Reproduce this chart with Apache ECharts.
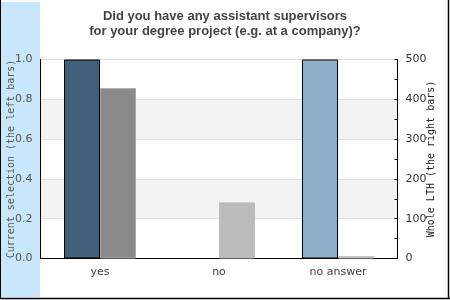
<!DOCTYPE html>
<html><head><meta charset="utf-8">
<script src="https://cdn.jsdelivr.net/npm/echarts@6/dist/echarts.min.js"></script>
<style>html,body{margin:0;padding:0;background:#fff}#c{width:450px;height:300px}</style>
</head><body><div id="c"></div>
<script>
const categories = ['yes', 'no', 'no answer'];
const currentSelection = [1.0, 0, 1.0];
const wholeLTH = [428, 141, 6];
const leftColors = ['#3f5f7a', '#3f5f7a', '#8fb0ca'];
const rightColors = ['#8a8a8a', '#bbbbbb', '#c0c0c0'];
const leftTicks = [0, 0.2, 0.4, 0.6, 0.8, 1.0];
const rightTicks = [0, 100, 200, 300, 400, 500];

const chart = echarts.init(document.getElementById('c'), null, {renderer: 'canvas'});
chart.setOption({
  animation: false,
  title: {
    text: 'Did you have any assistant supervisors\nfor your degree project (e.g. at a company)?',
    left: 'center', top: 4,
    textStyle: {fontFamily: 'Liberation Sans, Arial, sans-serif', fontWeight: 'bold', fontSize: 13, color: '#444', lineHeight: 15}
  },
  graphic: [
    {type: 'rect', z: -10, shape: {x: 1, y: 2, width: 39, height: 295}, style: {fill: '#c9e7fb'}},
    {type: 'line', shape: {x1: 0.5, y1: 0, x2: 0.5, y2: 299}, style: {stroke: '#000', lineWidth: 1}},
    {type: 'line', shape: {x1: 448.5, y1: 0, x2: 448.5, y2: 299}, style: {stroke: '#000', lineWidth: 1.5}},
    {type: 'line', shape: {x1: 0, y1: 298.5, x2: 450, y2: 298.5}, style: {stroke: '#000', lineWidth: 1.5}}
  ],
  grid: {left: 40.5, right: 52.5, top: 59.5, bottom: 41.5, containLabel: false, outerBoundsMode: 'none', show: true, borderColor: '#000', borderWidth: 1, backgroundColor: 'transparent'},
  xAxis: {
    type: 'category', data: categories,
    axisLine: {show: true, lineStyle: {color: '#000', width: 1}},
    axisTick: {show: false},
    axisLabel: {color: '#444', fontFamily: 'DejaVu Sans', fontSize: 11, margin: 8}
  },
  yAxis: [
    {
      type: 'value', min: 0, max: 1, interval: 0.2, position: 'left',
      name: 'Current selection (the left bars)', nameLocation: 'middle', nameGap: 24, nameRotate: 90, nameMoveOverlap: false,
      nameTextStyle: {fontFamily: 'DejaVu Sans Mono', fontSize: 10, color: '#555'},
      axisLine: {show: true, lineStyle: {color: '#000'}},
      axisTick: {show: false},
      axisLabel: {color: '#555', fontFamily: 'DejaVu Sans', fontSize: 11, margin: 8, formatter: v => v.toFixed(1)},
      splitLine: {show: true, lineStyle: {color: '#e0e0e0', width: 1}},
      splitArea: {show: true, areaStyle: {color: ['#ffffff', '#f2f2f2']}}
    },
    {
      type: 'value', min: 0, max: 500, interval: 100, position: 'right',
      name: 'Whole LTH (the right bars)', nameLocation: 'middle', nameGap: 29, nameRotate: 90, nameMoveOverlap: false,
      nameTextStyle: {fontFamily: 'DejaVu Sans Mono', fontSize: 10, color: '#222'},
      axisLine: {show: true, lineStyle: {color: '#000'}},
      axisTick: {show: true, inside: true, length: 3, lineStyle: {color: '#000'}},
      minorTick: {show: true, splitNumber: 2, length: 3, lineStyle: {color: '#000'}},
      axisLabel: {color: '#333', fontFamily: 'DejaVu Sans', fontSize: 11, margin: 8},
      splitLine: {show: false}
    }
  ],
  series: [
    {
      type: 'bar', yAxisIndex: 0, barWidth: 36, barGap: '0%',
      data: currentSelection.map((v, i) => ({value: v, itemStyle: {color: leftColors[i], borderColor: '#000', borderWidth: v > 0 ? 1 : 0}}))
    },
    {
      type: 'bar', yAxisIndex: 1, barWidth: 36, barGap: '0%',
      data: wholeLTH.map((v, i) => ({value: v, itemStyle: {color: rightColors[i], borderColor: i === 0 ? '#aaaaaa' : rightColors[i], borderWidth: 1}}))
    }
  ]
});
</script></body></html>
